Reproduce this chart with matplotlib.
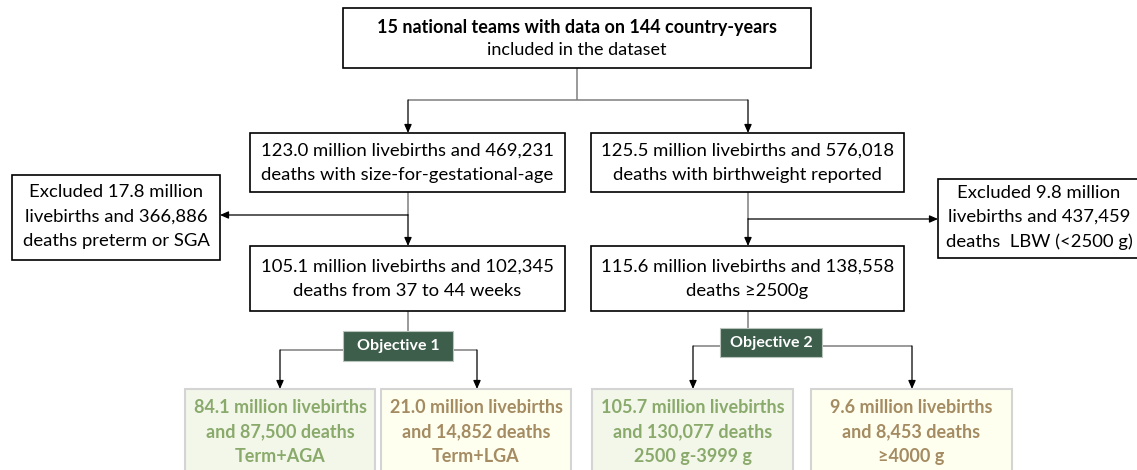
import matplotlib.pyplot as plt
from matplotlib.patches import Rectangle

FONT = ["Lato", "DejaVu Sans"]
LINE = "#7f7f7f"
DARK = "#3e5e4c"
GREEN_FILL, GREEN_TEXT = "#f3f7ea", "#8aaa6c"
TAN_FILL, TAN_TEXT = "#fffff0", "#a48b62"

# box texts
top_title = "15 national teams with data on 144 country-years"
top_sub = "included in the dataset"
step_texts = [
    "123.0 million livebirths and 469,231\ndeaths with size-for-gestational-age",
    "125.5 million livebirths and 576,018\ndeaths with birthweight reported",
    "105.1 million livebirths and 102,345\ndeaths from 37 to 44 weeks",
    "115.6 million livebirths and 138,558\ndeaths \u22652500g",
]
excluded_texts = [
    "Excluded 17.8 million\nlivebirths and 366,886\ndeaths preterm or SGA",
    "Excluded 9.8 million\nlivebirths and 437,459\ndeaths  LBW (<2500 g)",
]
objective_labels = ["Objective 1", "Objective 2"]
result_texts = [
    "84.1 million livebirths\nand 87,500 deaths\nTerm+AGA",
    "21.0 million livebirths\nand 14,852 deaths\nTerm+LGA",
    "105.7 million livebirths\nand 130,077 deaths\n2500 g-3999 g",
    "9.6 million livebirths\nand 8,453 deaths\n\u22654000 g",
]
result_kind = ["green", "tan", "green", "tan"]

# layout (pixel coordinates: x0, y0, x1, y1)
top_box = (343, 8, 811, 68)
step_boxes = [(250, 133, 565, 192), (591, 133, 904, 192),
              (250, 246, 565, 311), (591, 246, 904, 311)]
excl_boxes = [(12, 175, 220, 260), (938, 179, 1140, 258)]
obj_boxes = [(343, 331, 453, 361), (720, 328, 822, 357)]
res_boxes = [(185, 389, 375, 480), (381, 389, 571, 480),
             (592, 389, 793, 480), (811, 389, 1012, 480)]

fig = plt.figure(figsize=(11.37, 4.70), dpi=100)
ax = fig.add_axes([0, 0, 1, 1])
ax.set_xlim(0, 1137)
ax.set_ylim(470, 0)
ax.axis("off")


def box(b, fc="white", ec="black", lw=1.2):
    x0, y0, x1, y1 = b
    ax.add_patch(Rectangle((x0, y0), x1 - x0, y1 - y0, facecolor=fc,
                           edgecolor=ec, linewidth=lw, zorder=3))
    return (x0 + x1) / 2, (y0 + y1) / 2


def line(xs, ys):
    ax.plot(xs, ys, color=LINE, lw=1.1, zorder=2, solid_capstyle="butt")


def arrow(x0, y0, x1, y1):
    ax.annotate("", xy=(x1, y1), xytext=(x0, y0), zorder=2,
                arrowprops=dict(arrowstyle="-|>,head_length=0.5,head_width=0.22",
                                color="black", lw=0.9, shrinkA=0, shrinkB=0))


# top box
cx, cy = box(top_box)
ax.text(cx, cy - 11, top_title, ha="center", va="center", fontsize=13,
        fontweight="bold", family=FONT, zorder=4)
ax.text(cx, cy + 12, top_sub, ha="center", va="center", fontsize=13,
        family=FONT, zorder=4)

# top connector
line([577, 577], [68, 100])
line([408, 748], [100, 100])
arrow(408, 100, 408, 133)
arrow(748, 100, 748, 133)

for b, t in zip(step_boxes, step_texts):
    cx, cy = box(b)
    ax.text(cx, cy, t, ha="center", va="center", fontsize=13.3, family=FONT,
            linespacing=1.65, zorder=4)

for b, t in zip(excl_boxes, excluded_texts):
    cx, cy = box(b)
    ax.text(cx, cy - 1, t, ha="center", va="center", fontsize=13.3, family=FONT,
            linespacing=1.65, zorder=4)

# exclusion arrows
line([408, 408], [192, 215])
arrow(408, 215, 408, 246)
arrow(408, 215, 220, 215)
line([748, 748], [192, 219])
arrow(748, 219, 748, 246)
arrow(748, 219, 938, 219)

# objective connectors
line([408, 408], [311, 331])
line([280, 343], [350, 350])
line([453, 477], [350, 350])
arrow(280, 350, 280, 389)
arrow(477, 350, 477, 389)
line([748, 748], [311, 328])
line([693, 720], [346, 346])
line([822, 912], [346, 346])
arrow(693, 346, 693, 389)
arrow(912, 346, 912, 389)

for b, t in zip(obj_boxes, objective_labels):
    cx, cy = box(b, fc=DARK, ec="#b8c4bc", lw=0.8)
    ax.text(cx, cy, t, ha="center", va="center", fontsize=11.5,
            fontweight="bold", color="white", family=FONT, zorder=4)

for b, t, k in zip(res_boxes, result_texts, result_kind):
    fc, tc = (GREEN_FILL, GREEN_TEXT) if k == "green" else (TAN_FILL, TAN_TEXT)
    x0, y0, x1, y1 = b
    box(b, fc=fc, ec="#d4d4d4", lw=1.5)
    ax.text((x0 + x1) / 2, 432, t, ha="center", va="center", fontsize=13,
            fontweight="bold", color=tc, family=FONT, linespacing=1.53, zorder=4)

fig.savefig("out.png", dpi=100, facecolor="white")
